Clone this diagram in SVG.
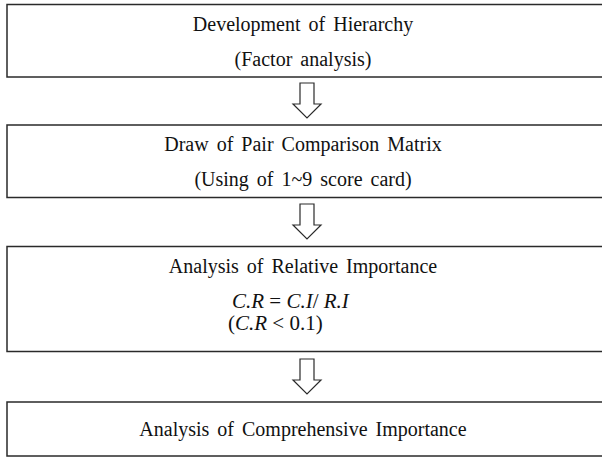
<svg xmlns="http://www.w3.org/2000/svg" width="602" height="461" viewBox="0 0 602 461">
<style>
.box{fill:#fff;stroke:#2a2a2a;stroke-width:1.5}
.t{font-family:"Liberation Serif","Times New Roman","DejaVu Serif",serif;font-size:20px;fill:#111;text-anchor:middle;word-spacing:3px}
.m{font-family:"Liberation Serif","Times New Roman","DejaVu Serif",serif;font-size:21px;fill:#111}
.arr{fill:#fff;stroke:#2a2a2a;stroke-width:1.2}
</style>
<rect width="602" height="461" fill="#fff"/>
<g id="n1">
<rect class="box" x="7" y="4.5" width="600" height="72.5"/>
<text class="t" x="303" y="31">Development of Hierarchy</text>
<text class="t" x="303" y="66">(Factor analysis)</text>
</g>
<g id="n2">
<rect class="box" x="7" y="125" width="600" height="72.5"/>
<text class="t" x="303" y="151">Draw of Pair Comparison Matrix</text>
<text class="t" x="303" y="186">(Using of 1~9 score card)</text>
</g>
<g id="n3">
<rect class="box" x="7" y="246.5" width="600" height="105"/>
<text class="t" x="303" y="273">Analysis of Relative Importance</text>
<text class="m" x="232" y="308"><tspan font-style="italic">C.R</tspan> = <tspan font-style="italic">C.I</tspan>/ <tspan font-style="italic">R.I</tspan></text>
<text class="m" x="228" y="330">(<tspan font-style="italic">C.R</tspan> &lt; 0.1)</text>
</g>
<g id="n4">
<rect class="box" x="7" y="402" width="600" height="54"/>
<text class="t" x="303" y="436">Analysis of Comprehensive Importance</text>
</g>
<g id="connectors">
<path class="arr" d="M300,83 H314 V104 H321 L307,118 L293,104 H300 Z"/>
<path class="arr" d="M300,204 H314 V225 H321 L307,239 L293,225 H300 Z"/>
<path class="arr" d="M300,359 H314 V380 H321 L307,394 L293,380 H300 Z"/>
</g>
</svg>
